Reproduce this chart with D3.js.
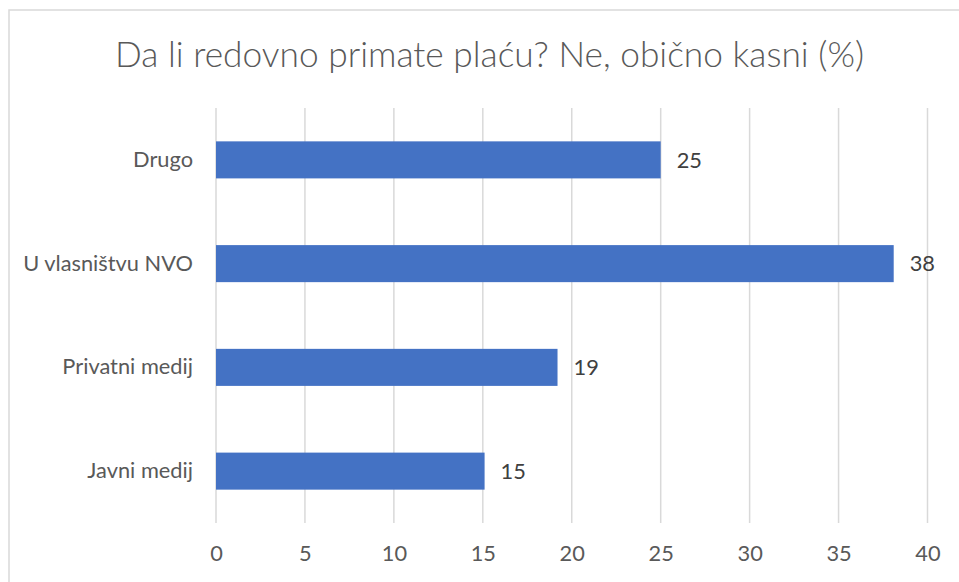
<!DOCTYPE html>
<html>
<head>
<meta charset="utf-8">
<script src="https://cdn.jsdelivr.net/npm/d3@7"></script>
<style>
  body { margin: 0; background: #fff; }
  svg { display: block; font-family: Lato, 'Open Sans', sans-serif; }
</style>
</head>
<body>
<div id="chart"></div>
<script>
// data
const categories = ['Drugo', 'U vlasništvu NVO', 'Privatni medij', 'Javni medij'];
const values = [25, 38.1, 19.2, 15.1];
const valueLabels = ['25', '38', '19', '15'];
const xTicks = [0, 5, 10, 15, 20, 25, 30, 35, 40];
const title = 'Da li redovno primate plaću? Ne, obično kasni (%)';

const width = 959, height = 582;
const margin = {top: 108, right: 31.5, bottom: 59, left: 216};
const labelSize = '21.8px';

const svg = d3.select('#chart').append('svg')
  .attr('width', width)
  .attr('height', height);

// chart frame (runs off the right and bottom edge like the screenshot)
svg.append('rect')
  .attr('x', 9).attr('y', 10)
  .attr('width', width + 20).attr('height', height + 20)
  .attr('fill', '#fff')
  .attr('stroke', '#d9d9d9')
  .attr('stroke-width', 1.5);

svg.append('text')
  .attr('x', 489.5).attr('y', 67)
  .attr('text-anchor', 'middle')
  .attr('fill', '#595959')
  .style('font-size', '35.3px')
  .style('font-weight', 300)
  .text(title);

let x = d3.scaleLinear()
  .domain([0, 40])
  .range([margin.left, width - margin.right]);

let y = d3.scaleBand()
  .domain(categories)
  .range([margin.top, height - margin.bottom])
  .paddingInner(0.643)
  .paddingOuter(0.3215);

// vertical gridlines
svg.append('g')
  .attr('class', 'grid')
  .selectAll('line')
  .data(xTicks)
  .join('line')
  .attr('x1', d => x(d)).attr('x2', d => x(d))
  .attr('y1', margin.top).attr('y2', height - margin.bottom)
  .attr('stroke', '#d9d9d9')
  .attr('stroke-width', 1.5);

// x axis labels
let xAxis = d3.axisBottom(x).tickValues(xTicks).tickSize(0).tickPadding(0);
svg.append('g')
  .attr('transform', `translate(0,${height - margin.bottom + 23})`)
  .call(xAxis)
  .call(g => g.select('.domain').remove())
  .call(g => g.selectAll('text')
    .attr('fill', '#595959')
    .attr('dy', '0.71em')
    .style('font-family', 'Lato, sans-serif')
    .style('font-size', labelSize));

// category labels
let yAxis = d3.axisLeft(y).tickSize(0).tickPadding(23);
svg.append('g')
  .attr('transform', `translate(${margin.left},0)`)
  .call(yAxis)
  .call(g => g.select('.domain').remove())
  .call(g => g.selectAll('text')
    .attr('fill', '#595959')
    .style('font-family', 'Lato, sans-serif')
    .style('font-size', labelSize));

// bars
svg.append('g')
  .selectAll('rect')
  .data(values)
  .join('rect')
  .attr('x', x(0))
  .attr('y', (d, i) => y(categories[i]))
  .attr('width', d => x(d) - x(0))
  .attr('height', y.bandwidth())
  .attr('fill', '#4472c4');

// value labels
svg.append('g')
  .selectAll('text')
  .data(values)
  .join('text')
  .attr('x', d => x(d) + 16)
  .attr('y', (d, i) => y(categories[i]) + y.bandwidth() / 2)
  .attr('dy', '0.35em')
  .attr('fill', '#404040')
  .style('font-size', labelSize)
  .text((d, i) => valueLabels[i]);
</script>
</body>
</html>
